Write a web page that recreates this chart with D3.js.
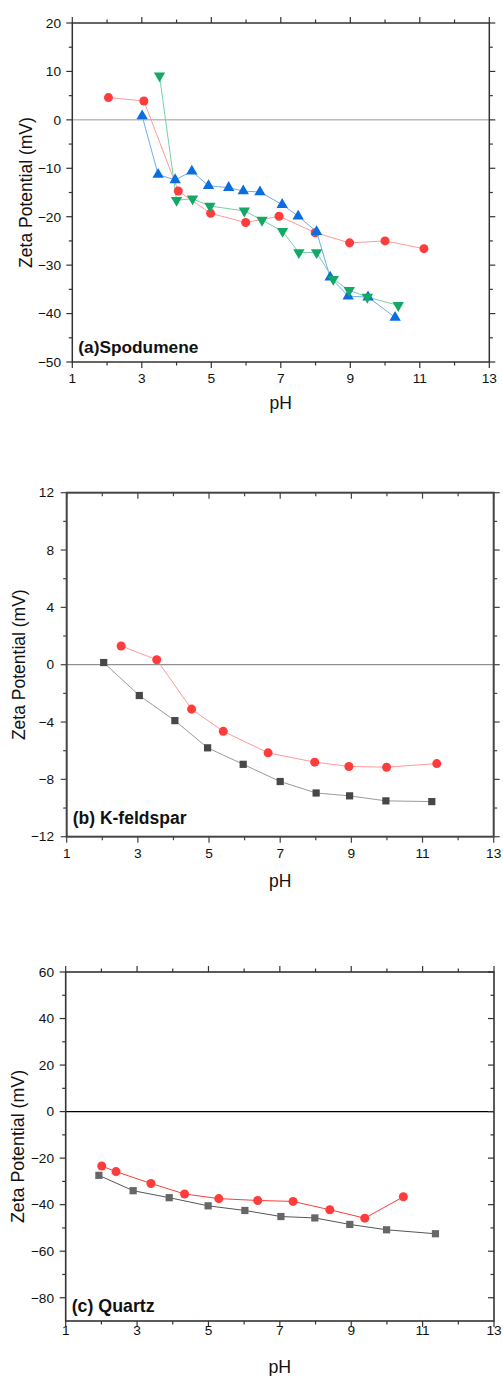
<!DOCTYPE html>
<html>
<head>
<meta charset="utf-8">
<script src="https://cdn.jsdelivr.net/npm/d3@7"></script>
<style>
  body { margin: 0; background: #fff; }
  svg { display: block; font-family: "Liberation Sans", Arial, sans-serif; }
</style>
</head>
<body>
<svg id="chart" width="503" height="1376"></svg>
<script>
// ---- Panel (a) Spodumene ----
const aRedPH   = [2.04, 3.06, 4.05, 4.98, 5.99, 6.95, 7.99, 8.98, 10.0, 11.12];
const aRedZeta = [4.6, 3.9, -14.7, -19.3, -21.2, -19.9, -23.3, -25.4, -25.0, -26.6];
const aBluePH   = [3.01, 3.47, 3.96, 4.44, 4.92, 5.5, 5.92, 6.4, 7.04, 7.5, 8.03, 8.42, 8.94, 9.51, 10.29];
const aBlueZeta = [0.8, -11.3, -12.4, -10.6, -13.6, -14.0, -14.7, -14.9, -17.5, -19.9, -23.1, -32.5, -36.4, -36.6, -40.8];
const aGreenPH   = [3.51, 4.0, 4.46, 4.96, 5.95, 6.46, 7.05, 7.52, 8.03, 8.51, 8.97, 9.49, 10.38];
const aGreenZeta = [9.1, -16.6, -16.3, -17.8, -18.8, -20.7, -23.0, -27.4, -27.4, -32.9, -35.2, -36.6, -38.3];
const aYTicks = [20, 10, 0, -10, -20, -30, -40, -50];

// ---- Panel (b) K-feldspar ----
const bRedPH   = [2.53, 3.53, 4.51, 5.4, 6.66, 7.97, 8.93, 9.99, 11.4];
const bRedZeta = [1.3, 0.35, -3.1, -4.65, -6.15, -6.8, -7.1, -7.15, -6.9];
const bGrayPH   = [2.04, 3.04, 4.04, 4.96, 5.96, 7.0, 8.01, 8.95, 9.97, 11.26];
const bGrayZeta = [0.15, -2.15, -3.9, -5.8, -6.95, -8.15, -8.95, -9.15, -9.5, -9.55];
const bYTicks = [12, 8, 4, 0, -4, -8, -12];

// ---- Panel (c) Quartz ----
const cRedPH   = [2.01, 2.41, 3.39, 4.33, 5.29, 6.38, 7.37, 8.4, 9.38, 10.46];
const cRedZeta = [-23.4, -25.8, -30.9, -35.4, -37.4, -38.2, -38.6, -42.2, -45.8, -36.6];
const cGrayPH   = [1.93, 2.89, 3.9, 4.99, 6.02, 7.03, 7.98, 8.96, 9.99, 11.36];
const cGrayZeta = [-27.4, -34.0, -37.0, -40.5, -42.5, -45.1, -45.7, -48.5, -50.8, -52.5];
const cYTicks = [60, 40, 20, 0, -20, -40, -60, -80];

const xTicks = [1, 3, 5, 7, 9, 11, 13];
const xLabel = "pH";
const yLabel = "Zeta Potential (mV)";

const svg = d3.select("#chart");

function zip(xs, ys) { return xs.map((x, i) => ({x, y: ys[i]})); }

function panel(cfg) {
  const g = svg.append("g");
  const x = d3.scaleLinear().domain([1, 13]).range([cfg.left, cfg.right]);
  const y = d3.scaleLinear().domain(cfg.yDomain).range([cfg.bottom, cfg.top]);
  const frameColor = cfg.frameColor;

  // zero line
  g.append("line")
    .attr("x1", cfg.left).attr("x2", cfg.right)
    .attr("y1", y(0)).attr("y2", y(0))
    .attr("stroke", cfg.zeroColor).attr("stroke-width", cfg.zeroWidth);

  // minor ticks
  const xMinor = d3.range(2, 13, 2);
  const yMinor = cfg.yTicks.slice(0, -1).map((t, i) => (t + cfg.yTicks[i + 1]) / 2);
  const majL = 6, minL = 3.5;
  const tk = (sel) => sel.attr("stroke", frameColor).attr("stroke-width", 1.2);

  xTicks.forEach(v => tk(g.append("line").attr("x1", x(v)).attr("x2", x(v)).attr("y1", cfg.bottom).attr("y2", cfg.bottom + majL)));
  xMinor.forEach(v => tk(g.append("line").attr("x1", x(v)).attr("x2", x(v)).attr("y1", cfg.bottom).attr("y2", cfg.bottom + minL)));
  const td = cfg.topOut ? -1 : 1;
  xTicks.forEach(v => tk(g.append("line").attr("x1", x(v)).attr("x2", x(v)).attr("y1", cfg.top).attr("y2", cfg.top + td * majL)));
  xMinor.forEach(v => tk(g.append("line").attr("x1", x(v)).attr("x2", x(v)).attr("y1", cfg.top).attr("y2", cfg.top + td * minL)));
  cfg.yTicks.forEach(v => tk(g.append("line").attr("x1", cfg.left).attr("x2", cfg.left - majL).attr("y1", y(v)).attr("y2", y(v))));
  yMinor.forEach(v => tk(g.append("line").attr("x1", cfg.left).attr("x2", cfg.left - minL).attr("y1", y(v)).attr("y2", y(v))));
  const rd = cfg.rightOut ? 1 : -1;
  cfg.yTicks.forEach(v => tk(g.append("line").attr("x1", cfg.right).attr("x2", cfg.right + rd * majL).attr("y1", y(v)).attr("y2", y(v))));
  yMinor.forEach(v => tk(g.append("line").attr("x1", cfg.right).attr("x2", cfg.right + rd * minL).attr("y1", y(v)).attr("y2", y(v))));

  // frame
  g.append("rect")
    .attr("x", cfg.left).attr("y", cfg.top)
    .attr("width", cfg.right - cfg.left).attr("height", cfg.bottom - cfg.top)
    .attr("fill", "none").attr("stroke", frameColor).attr("stroke-width", cfg.frameWidth);

  // tick labels
  g.selectAll(".xt").data(xTicks).enter().append("text")
    .attr("x", d => x(d)).attr("y", cfg.xTickY)
    .attr("text-anchor", "middle").attr("font-size", cfg.tickFont).attr("fill", "#111")
    .text(d => d);
  g.selectAll(".yt").data(cfg.yTicks).enter().append("text")
    .attr("x", cfg.yTickX).attr("y", d => y(d)).attr("dy", "0.35em")
    .attr("text-anchor", "end").attr("font-size", cfg.tickFont).attr("fill", "#111")
    .text(d => d < 0 ? "\u2212" + Math.abs(d) : d);

  // axis titles
  g.append("text")
    .attr("x", (cfg.left + cfg.right) / 2).attr("y", cfg.xLabelY)
    .attr("text-anchor", "middle").attr("font-size", cfg.titleFont).attr("fill", "#111")
    .text(xLabel);
  g.append("text")
    .attr("transform", `translate(${cfg.yLabelX},${(cfg.top + cfg.bottom) / 2}) rotate(-90)`)
    .attr("text-anchor", "middle").attr("font-size", cfg.titleFont).attr("fill", "#111")
    .text(yLabel);

  // panel label
  g.append("text")
    .attr("x", cfg.left + 6).attr("y", cfg.labelY)
    .attr("font-size", cfg.labelFont).attr("font-weight", "bold").attr("fill", "#111")
    .text(cfg.label);

  // series
  const line = d3.line().x(d => x(d.x)).y(d => y(d.y));
  cfg.series.forEach(s => {
    g.append("path").datum(s.data)
      .attr("d", line).attr("fill", "none")
      .attr("stroke", s.lineColor).attr("stroke-width", 1);
  });
  cfg.series.forEach(s => {
    const sym = d3.symbol().type(s.type).size(s.size);
    g.selectAll(null).data(s.data).enter().append("path")
      .attr("d", sym)
      .attr("transform", d => `translate(${x(d.x)},${y(d.y)})${s.rotate ? " rotate(180)" : ""}`)
      .attr("fill", s.color);
  });
}

panel({
  left: 72.3, right: 489.3, top: 23, bottom: 362, yDomain: [-50, 20], yTicks: aYTicks,
  frameColor: "#333", frameWidth: 1.5, zeroColor: "#999", zeroWidth: 1,
  topOut: true, rightOut: true,
  xTickY: 383, yTickX: 61, xLabelY: 409, yLabelX: 31.5, labelY: 353,
  tickFont: 13.7, titleFont: 17.5, labelFont: 17.3,
  label: "(a)Spodumene",
  series: [
    {data: zip(aRedPH, aRedZeta), color: "#ff3c3c", lineColor: "#ff9a9a", type: d3.symbolCircle, size: 64},
    {data: zip(aBluePH, aBlueZeta), color: "#0a6ee0", lineColor: "#6fadee", type: d3.symbolTriangle, size: 56},
    {data: zip(aGreenPH, aGreenZeta), color: "#14a865", lineColor: "#74d2a6", type: d3.symbolTriangle, size: 56, rotate: true}
  ]
});

panel({
  left: 66.7, right: 493.7, top: 492.7, bottom: 836.7, yDomain: [-12, 12], yTicks: bYTicks,
  frameColor: "#444", frameWidth: 2, zeroColor: "#777", zeroWidth: 1,
  topOut: false, rightOut: true,
  xTickY: 858, yTickX: 54, xLabelY: 886.5, yLabelX: 25, labelY: 824,
  tickFont: 13.7, titleFont: 17.5, labelFont: 17.5,
  label: "(b) K-feldspar",
  series: [
    {data: zip(bRedPH, bRedZeta), color: "#ff3c3c", lineColor: "#ff9a9a", type: d3.symbolCircle, size: 64},
    {data: zip(bGrayPH, bGrayZeta), color: "#474747", lineColor: "#9a9a9a", type: d3.symbolSquare, size: 52}
  ]
});

panel({
  left: 65.7, right: 494, top: 972, bottom: 1321, yDomain: [-90, 60], yTicks: cYTicks,
  frameColor: "#333", frameWidth: 1.6, zeroColor: "#000", zeroWidth: 1.2,
  topOut: true, rightOut: false,
  xTickY: 1335, yTickX: 54, xLabelY: 1372.5, yLabelX: 23.5, labelY: 1312,
  tickFont: 13.7, titleFont: 17.8, labelFont: 17.8,
  label: "(c) Quartz",
  series: [
    {data: zip(cRedPH, cRedZeta), color: "#ff3c3c", lineColor: "#ff3c3c", type: d3.symbolCircle, size: 64},
    {data: zip(cGrayPH, cGrayZeta), color: "#666", lineColor: "#555", type: d3.symbolSquare, size: 52}
  ]
});
</script>
</body>
</html>
